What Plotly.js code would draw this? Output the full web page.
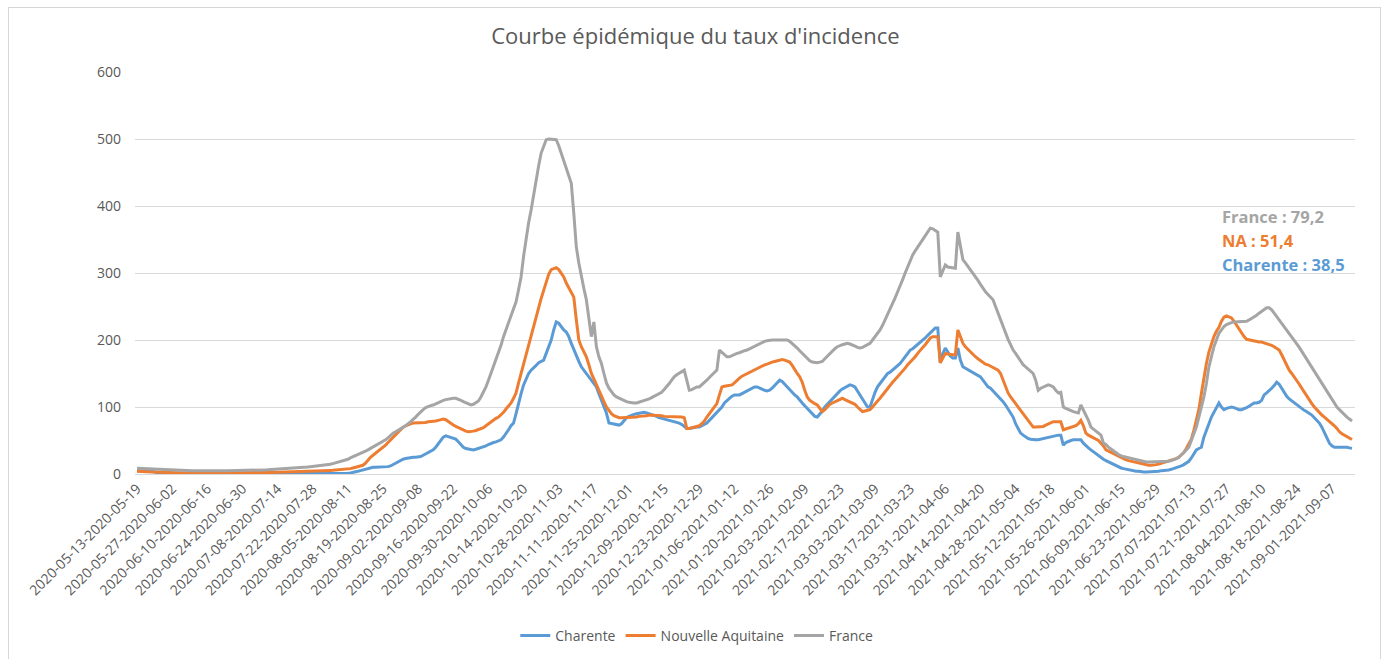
<!DOCTYPE html>
<html>
<head>
<meta charset="utf-8">
<script src="https://cdn.plot.ly/plotly-3.0.1.min.js"></script>
<style>
  html, body { margin: 0; padding: 0; background: #ffffff; }
  #chart { width: 1388px; height: 659px; position: absolute; left: 0; top: 0; }
  #frame { position: absolute; left: 8px; top: 7px; width: 1371px; height: 660px; border: 1px solid #d6d6d6; pointer-events: none; }
</style>
</head>
<body>
<div id="chart"></div>
<div id="frame"></div>
<script>
// Category labels: 7-day sliding windows, one per day, starting 2020-05-13
const firstWindowStart = '2020-05-13';
const windowCount = 485;
const categories = [];
(function () {
  const s = Date.parse(firstWindowStart + 'T00:00:00Z');
  for (let i = 0; i < windowCount; i++) {
    const a = new Date(s + i * 86400000).toISOString().slice(0, 10);
    const b = new Date(s + (i + 6) * 86400000).toISOString().slice(0, 10);
    categories.push(a + '-' + b);
  }
})();

const seriesNames = ['Charente', 'Nouvelle Aquitaine', 'France'];

const charente = [
  5,5,5,5,5,4.5,4,3,2,1.5,1,0.8,0.6,0.5,
  0.5,0.5,0.5,0.4,0.4,0.4,0.3,0.3,0.3,0.3,0.3,0.3,0.3,0.3,
  0.3,0.3,0.3,0.3,0.3,0.3,0.3,0.3,0.3,0.3,0.3,0.3,0.3,0.3,
  0.3,0.3,0.3,0.3,0.3,0.3,0.3,0.3,0.3,0.3,0.3,0.3,0.3,0.3,
  0.3,0.3,0.4,0.4,0.4,0.5,0.5,0.5,0.5,0.6,0.6,0.6,0.6,0.7,
  0.7,0.7,0.8,0.8,0.8,0.9,0.9,1.0,1.0,1.0,1.1,1.1,1.2,1.2,
  1.3,1.5,2,3,4,5,6,8,9,9,10,10,10,10,
  10,10,11,12,14,16,19,21,22,23,24,24,25,25,
  25,26,28,30,32,34,36,40,45,50,55,57,56,55,
  54,52,48,44,40,38,37,36,36,37,38,39,40,42,
  44,46,47,48,50,51,55,60,66,72,76,90,106,120,
  133,143,150,155,158,162,166,168,170,180,190,200,215,227,
  225,220,215,212,205,195,185,175,168,160,155,150,145,140,
  135,130,120,110,100,91,76,75,74,73,73,75,80,84,
  86,88,89,90,91,92,92,91,90,89,88,86,84,83,
  82,81,80,79,78,78,76,74,71,68,68,69,69,70,
  70,72,74,76,80,84,88,91,95,100,106,110,113,116,
  118,118,118,120,122,125,127,129,130,130,128,126,125,124,
  125,128,132,136,140,138,134,130,125,122,118,115,110,106,
  102,98,94,90,86,85,89,94,100,104,108,112,116,121,
  124,127,129,131,133,132,130,124,118,112,106,100,100,112,
  122,130,135,140,145,150,152,155,158,161,165,170,175,180,
  185,187,190,194,197,200,203,207,211,215,218,218,166,180,
  188,182,176,173,173,188,170,160,158,156,154,152,150,148,
  145,140,135,130,128,124,120,117,113,108,103,97,91,85,
  75,68,61,58,55,53,52,51,51,51,52,53,54,55,
  56,57,58,58,58,43,47,49,50,51,51,51,51,46,
  42,39,36,33,30,27,24,22,20,18,16,14,12,11,
  9,8,7,6,5,5,4,4,3,3,3,3,3,3,
  4,4,5,5,6,6,7,8,9,10,12,14,16,19,
  24,30,36,38,40,55,65,76,85,92,100,106,100,96,
  98,99,100,99,97,96,96,97,99,101,104,106,106,107,
  110,118,121,124,128,132,137,134,128,121,116,112,109,106,
  104,101,98,95,93,91,88,84,80,76,70,62,54,46,
  42,40,40,40,41,41,40,39,38.5
];

const nouvelleAquitaine = [
  4,4,3.8,3.6,3.4,3.2,3.0,2.8,2.6,2.4,2.2,2.0,1.9,1.8,
  1.7,1.6,1.5,1.5,1.4,1.4,1.3,1.3,1.3,1.2,1.2,1.2,1.2,1.2,
  1.2,1.2,1.2,1.2,1.2,1.2,1.2,1.2,1.3,1.3,1.3,1.3,1.4,1.4,
  1.4,1.5,1.5,1.6,1.7,1.8,1.9,2.0,2.1,2.2,2.3,2.4,2.5,2.6,
  2.7,2.8,2.9,3.0,3.0,3.1,3.1,3.2,3.2,3.3,3.4,3.5,3.6,3.8,
  4.0,4.2,4.4,4.6,4.8,5.0,5.2,5.4,5.6,5.8,6.0,6.3,6.6,7.0,
  7.5,8,9,10,11,12,13,16,21,25,28,31,34,37,
  39,43,47,51,54,58,62,66,70,72,74,75,76,76,
  76,77,77,77,78,78,78,79,80,81,82,81,78,75,
  73,71,69,67,65,64,63,63,64,65,66,67,69,72,
  75,78,81,83,85,88,92,97,102,106,113,121,136,150,
  165,180,195,208,220,235,250,262,274,287,298,305,307,308,
  305,300,294,285,278,272,264,230,200,190,183,175,163,150,
  142,133,125,117,108,100,94,90,87,85,84,84,84,84,
  84,84,85,85,86,86,87,87,88,88,88,87,87,87,
  86,86,86,85,85,85,85,85,84,68,68,69,70,70,
  72,75,79,85,90,95,100,105,118,130,131,132,133,133,
  136,140,143,146,148,150,152,154,156,158,160,162,163,164,
  166,167,168,169,170,171,170,168,167,162,155,150,145,137,
  125,115,110,107,105,103,98,93,96,100,104,106,108,110,
  112,113,111,109,107,106,104,100,96,93,94,95,96,100,
  105,109,113,118,123,128,133,137,141,145,149,153,158,163,
  167,170,175,180,185,189,193,198,203,205,205,205,166,172,
  180,179,178,178,178,215,205,195,190,186,182,178,175,172,
  169,166,164,163,161,159,157,155,150,140,130,121,115,110,
  105,101,96,91,85,80,75,70,70,70,70,71,73,75,
  77,78,78,78,78,66,67,68,69,70,72,75,80,72,
  61,58,56,54,52,50,46,42,36,34,32,30,28,26,
  24,23,21,20,19,18,17,16,15,15,14,13,13,13,
  14,15,16,17,18,19,20,21,23,25,28,32,38,46,
  52,65,80,96,120,145,165,182,195,205,213,219,228,234,
  236,235,233,228,222,215,210,205,201,200,199,198,198,197,
  197,196,195,194,192,190,188,185,178,170,162,155,150,145,
  140,134,128,122,115,110,105,100,96,91,88,85,82,79,
  76,72,68,63,60,58,56,53,51.4
];

const france = [
  8.5,8.3,8.0,7.8,7.5,7.2,7.0,6.8,6.5,6.3,6.1,6.0,5.8,5.7,
  5.6,5.5,5.4,5.3,5.2,5.1,5.0,5.0,4.9,4.9,4.8,4.8,4.8,4.8,
  4.8,4.8,4.8,4.8,4.8,4.9,4.9,4.9,5.0,5.0,5.1,5.1,5.2,5.2,
  5.3,5.3,5.4,5.5,5.6,5.7,5.8,5.9,6.0,6.1,6.2,6.4,6.6,6.8,
  7.0,7.2,7.4,7.6,7.8,8.0,8.3,8.6,8.9,9.2,9.6,10.0,10.4,10.8,
  11.2,11.6,12.0,12.4,12.8,13.2,13.6,14.5,15.5,16.5,17.5,18.5,19.5,20.5,
  22,24,25.5,27,28.5,30,32,34,36,38,40,42,44,46,
  48,51,54,58,61,63,65,67,69,72,75,78,81,85,
  89,93,96,99,101,102,103,105,107,109,110,111,112,113,
  113,113,112,110,108,106,104,103,104,106,109,115,122,130,
  140,150,160,170,180,192,205,215,225,234,246,257,275,294,
  325,354,375,394,418,439,460,479,490,499,500,500,500,499,
  490,479,466,454,444,434,389,339,315,294,277,260,235,205,
  227,190,175,165,150,136,128,122,118,115,113,111,109,108,
  107,106,106,106,107,108,109,110,112,114,116,118,120,122,
  126,130,135,140,145,148,150,153,155,140,125,126,128,130,
  130,133,136,140,144,148,151,155,185,182,178,175,175,177,
  178,180,181,183,184,185,187,189,191,193,195,197,198,199,
  200,200,200,200,200,201,201,200,198,195,192,188,184,180,
  176,172,169,167,166,166,167,168,172,176,180,184,187,190,
  192,193,194,195,194,193,191,189,188,189,191,193,195,200,
  205,210,215,222,230,237,245,254,263,272,280,290,300,310,
  320,327,333,339,345,350,356,362,367,366,364,361,294,303,
  312,309,308,307,307,361,340,320,315,310,305,300,295,289,
  283,277,272,268,264,260,250,240,229,219,210,201,193,185,
  180,174,168,163,160,157,153,150,140,125,128,130,132,133,
  132,130,125,121,122,100,98,96,94,93,92,91,103,96,
  88,80,70,67,64,61,58,46,44,40,37,34,31,29,
  27,26,25,24,23,22,21,20,19,18,18,18,18,18,
  18,18,18,18,18,19,20,21,23,25,28,32,36,40,
  50,60,70,85,100,115,135,160,175,190,200,210,215,220,
  223,225,226,227,227,227,227,227,228,230,232,234,237,240,
  243,246,248,248,245,240,235,230,225,219,215,210,205,200,
  195,189,183,177,170,164,158,152,146,140,134,128,122,116,
  110,105,100,96,92,88,85,82,79.2
];

const lastLabels = ['France : 79,2', 'NA : 51,4', 'Charente : 38,5'];

const colors = { charente: '#5B9BD5', na: '#ED7D31', france: '#A5A5A5' };
const FONT = 'Open Sans, Noto Sans, sans-serif';
const TXT = '#595959';

const traces = [
  { x: categories, y: charente, name: seriesNames[0], type: 'scatter', mode: 'lines',
    line: { color: colors.charente, width: 3 } },
  { x: categories, y: nouvelleAquitaine, name: seriesNames[1], type: 'scatter', mode: 'lines',
    line: { color: colors.na, width: 3 } },
  { x: categories, y: france, name: seriesNames[2], type: 'scatter', mode: 'lines',
    line: { color: colors.france, width: 3 } }
];

const layout = {
  width: 1388, height: 659,
  margin: { l: 135, r: 33, t: 72, b: 185 },
  paper_bgcolor: '#ffffff', plot_bgcolor: '#ffffff',
  font: { family: FONT, color: TXT },
  title: { text: "Courbe épidémique du taux d'incidence", xref: 'container', x: 0.501, yref: 'container', y: 0.945, yanchor: 'middle',
           font: { family: FONT, size: 22, color: TXT } },
  xaxis: {
    type: 'category', range: [-0.8, 485.2], tickmode: 'linear', tick0: 0, dtick: 14,
    tickangle: -45, tickfont: { family: FONT, size: 14, color: TXT },
    showgrid: false, zeroline: false, showline: true, linecolor: '#d9d9d9', linewidth: 1,
    ticks: '', automargin: false, fixedrange: true
  },
  yaxis: {
    range: [0, 600], dtick: 100, tickmode: 'linear', tick0: 0,
    gridcolor: '#d9d9d9', gridwidth: 1, zeroline: false, showline: false,
    tickfont: { family: FONT, size: 14, color: TXT }, ticklabelstandoff: 13,
    automargin: false, fixedrange: true
  },
  legend: { orientation: 'h', xref: 'container', x: 0.502, xanchor: 'center',
            yref: 'container', y: 0.035, yanchor: 'middle',
            font: { family: FONT, size: 14, color: TXT } },
  annotations: [
    { text: '<b>' + lastLabels[0] + '</b>', xref: 'paper', x: 0.889, yref: 'y', y: 384, xanchor: 'left', yanchor: 'middle',
      showarrow: false, font: { family: FONT, size: 16.5, color: colors.france } },
    { text: '<b>' + lastLabels[1] + '</b>', xref: 'paper', x: 0.889, yref: 'y', y: 349, xanchor: 'left', yanchor: 'middle',
      showarrow: false, font: { family: FONT, size: 16.5, color: colors.na } },
    { text: '<b>' + lastLabels[2] + '</b>', xref: 'paper', x: 0.889, yref: 'y', y: 312, xanchor: 'left', yanchor: 'middle',
      showarrow: false, font: { family: FONT, size: 16.5, color: colors.charente } }
  ]
};

Plotly.newPlot('chart', traces, layout, { displayModeBar: false, staticPlot: true });
</script>
</body>
</html>
